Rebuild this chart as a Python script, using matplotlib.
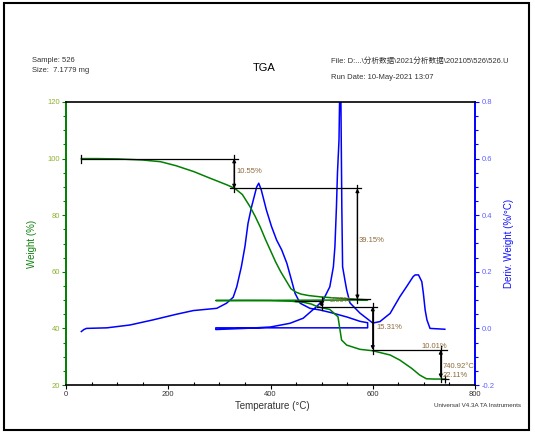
import matplotlib
matplotlib.use('Agg')
import matplotlib.pyplot as plt
import numpy as np
from matplotlib.patches import Rectangle
from matplotlib.ticker import MultipleLocator, FormatStrFormatter

plt.rcParams['font.family'] = ['Liberation Sans', 'Noto Sans CJK SC', 'DejaVu Sans']
plt.rcParams['axes.unicode_minus'] = False

# weight curve: first heating, cooling back, second heating
tg1_temp = [30, 60, 100, 150, 185, 215, 250, 280, 315, 330, 345, 360, 370, 380, 390,
            400, 410, 420, 430, 440, 450, 460, 475, 500, 530, 560, 590]
tg1_weight = [100.0, 100.0, 99.9, 99.5, 98.9, 97.5, 95.4, 93.2, 90.7, 89.5, 87.3, 83.0,
              79.6, 75.8, 71.5, 67.5, 63.5, 60.0, 57.0, 54.0, 52.8, 52.1, 51.6, 51.1,
              50.7, 50.4, 50.1]
cool_temp = [590, 293]
cool_weight = [50.05, 49.85]
tg2_temp = [293, 350, 400, 440, 465, 480, 490, 500, 516, 532, 536, 539, 549, 575, 600,
            634, 653, 676, 692, 705, 720, 742]
tg2_weight = [49.85, 49.85, 49.8, 49.6, 49.2, 48.6, 47.8, 47.3, 46.7, 44.1, 39.4, 35.9,
              34.1, 32.6, 32.1, 30.6, 28.8, 25.9, 23.5, 22.2, 22.1, 22.1]

# derivative curve
dtg1_temp = [30, 35, 40, 80, 125, 170, 216, 249, 295, 314, 327, 334, 343, 350, 356, 363,
             373, 377, 382, 392, 402, 412, 422, 432, 441, 448, 458, 477, 497, 520, 550,
             575, 590]
dtg1_deriv = [-0.011, -0.004, 0.0, 0.002, 0.012, 0.03, 0.05, 0.063, 0.071, 0.089, 0.11,
              0.147, 0.218, 0.289, 0.371, 0.43, 0.50, 0.513, 0.489, 0.418, 0.36, 0.312,
              0.277, 0.23, 0.171, 0.124, 0.089, 0.071, 0.065, 0.055, 0.04, 0.025, 0.02]
dtg_cool_temp = [590, 293]
dtg_cool_deriv = [0.002, 0.002]
dtg2_temp = [293, 350, 400, 438, 464, 490, 503, 516, 523, 526, 529, 531, 534, 535.5,
             536.5, 537.5, 539.5, 541, 545.5, 549, 555.5, 575, 600, 614, 634, 653, 666,
             679, 683, 689.5, 696, 699, 702.5, 706, 712, 741]
dtg2_deriv = [-0.004, 0.0, 0.005, 0.018, 0.036, 0.077, 0.10, 0.147, 0.218, 0.289, 0.43,
              0.55, 0.666, 0.85, 1.0, 0.85, 0.43, 0.218, 0.171, 0.136, 0.09, 0.054,
              0.019, 0.024, 0.053, 0.112, 0.147, 0.183, 0.189, 0.189, 0.165, 0.124,
              0.065, 0.03, 0.0, -0.003]

# step analysis
step_pcts = [10.55, 39.15, 2.09, 15.31, 10.01]
step_start = [100.0, 89.45, 49.80, 47.71, 32.40]
step_at = [329, 570, 500, 600, 733]
residue_temp = 740.92
residue_pct = 22.11

W, H = 535, 436
def fx(px):
    return px / W
def fy(py):
    return 1 - py / H

fig = plt.figure(figsize=(W / 100, H / 100), dpi=100)
ax = fig.add_axes([fx(66), fy(385), 409 / W, 283 / H])
ax2 = ax.twinx()
ax.set_zorder(ax2.get_zorder() + 1)
ax.patch.set_visible(False)

tg_t = tg1_temp + cool_temp + tg2_temp
tg_w = tg1_weight + cool_weight + tg2_weight
ax.plot(tg_t, tg_w, color='#008000', lw=1.1)
dtg_t = dtg1_temp + dtg_cool_temp + dtg2_temp
dtg_d = dtg1_deriv + dtg_cool_deriv + dtg2_deriv
ax2.plot(dtg_t, dtg_d, color='#0000ff', lw=1.1)

ax.set_xlim(0, 800)
ax.set_ylim(20, 120)
ax2.set_ylim(-0.2, 0.8)

ax.xaxis.set_major_locator(MultipleLocator(200))
ax.xaxis.set_minor_locator(MultipleLocator(50))
ax.yaxis.set_major_locator(MultipleLocator(20))
ax.yaxis.set_minor_locator(MultipleLocator(5))
ax2.yaxis.set_major_locator(MultipleLocator(0.2))
ax2.yaxis.set_minor_locator(MultipleLocator(0.05))
ax2.yaxis.set_major_formatter(FormatStrFormatter('%.1f'))

for s in ['left', 'right', 'top', 'bottom']:
    ax2.spines[s].set_visible(False)
ax.spines['right'].set_visible(False)
ax.spines['left'].set_color('#008000')
ax.spines['left'].set_linewidth(1.4)
ax.spines['bottom'].set_linewidth(1.2)
ax.spines['top'].set_linewidth(1.2)
ax2.spines['right'].set_visible(True)
ax2.spines['right'].set_color('#0000ff')
ax2.spines['right'].set_linewidth(1.4)

ax.tick_params(axis='y', which='both', direction='out', color='#008000',
               labelcolor='#8fb030', labelsize=5.5, pad=1.5, width=0.8)
ax.tick_params(axis='y', which='major', length=3)
ax.tick_params(axis='y', which='minor', length=2)
ax.tick_params(axis='x', which='both', direction='out', color='black',
               labelcolor='#333333', labelsize=5.5, pad=1.5, width=0.8)
ax.tick_params(axis='x', which='major', length=3)
ax.tick_params(axis='x', which='minor', length=2, direction='in')
ax2.tick_params(axis='y', which='both', direction='out', color='#0000ff',
                labelcolor='#6060ff', labelsize=5.5, pad=1.5, width=0.8)
ax2.tick_params(axis='y', which='major', length=3)
ax2.tick_params(axis='y', which='minor', length=2)

# step annotations
lab_col = '#8c6a3c'
hlines = [(100.0, 30, 336), (89.45, 321, 577), (50.30, 550, 595),
          (49.80, 448, 503), (47.71, 491, 608), (32.40, 598, 745)]
for lvl, t0, t1 in hlines:
    ax.plot([t0, t1], [lvl, lvl], color='black', lw=0.9)
ax.plot([30, 30], [98.6, 101.4], color='black', lw=0.9)

for pct, top, t in zip(step_pcts, step_start, step_at):
    bot = top - pct
    ax.annotate('', xy=(t, bot), xytext=(t, top),
                arrowprops=dict(arrowstyle='<|-|>', color='black', lw=0.9,
                                mutation_scale=5, shrinkA=0, shrinkB=0))
    ax.plot([t, t], [top + 1.3, bot - 1.3], color='black', lw=0.9)

lab_pos = [(333, 95.3), (573, 71.2), (516, 50.0), (608, 40.2), (696, 33.6)]
for pct, (t, w) in zip(step_pcts, lab_pos):
    ax.text(t, w, '%.2f%%' % pct, fontsize=5.5, color=lab_col, ha='left', va='center')

ax.plot([residue_temp], [residue_pct], marker='+', color='black', ms=6, mew=0.9)
ax.text(737, 26.4, '%.2f°C' % residue_temp, fontsize=5.5, color=lab_col,
        ha='left', va='center')
ax.text(737, 23.4, '%.2f%%' % residue_pct, fontsize=5.5, color=lab_col,
        ha='left', va='center')

# header and axis labels
fig.text(fx(32), fy(61), 'Sample: 526', fontsize=5.5, color='#333333', va='center')
fig.text(fx(32), fy(70), 'Size:  7.1779 mg', fontsize=5.5, color='#333333', va='center')
fig.text(fx(264), fy(68), 'TGA', fontsize=8, color='black', ha='center', va='center')
fig.text(fx(331), fy(61), r'File: D:...\分析数据\2021分析数据\202105\526\526.U',
         fontsize=5.5, color='#333333', va='center')
fig.text(fx(331), fy(77.5), 'Run Date: 10-May-2021 13:07', fontsize=5.5,
         color='#333333', va='center')
fig.text(fx(272), fy(406), 'Temperature (°C)', fontsize=7, color='#333333',
         ha='center', va='center')
fig.text(fx(32), fy(244), 'Weight (%)', fontsize=7, color='#108010',
         ha='center', va='center', rotation=90)
fig.text(fx(509), fy(243), 'Deriv. Weight (%/°C)', fontsize=7, color='#1010ff',
         ha='center', va='center', rotation=90)
fig.text(fx(521), fy(405), 'Universal V4.3A TA Instruments', fontsize=4.5,
         color='#333333', ha='right', va='center')

fig.patches.append(Rectangle((fx(4), fy(430)), 525 / W, 427 / H, transform=fig.transFigure,
                             fill=False, lw=1.5, ec='black'))

fig.savefig('out.png', dpi=100)
